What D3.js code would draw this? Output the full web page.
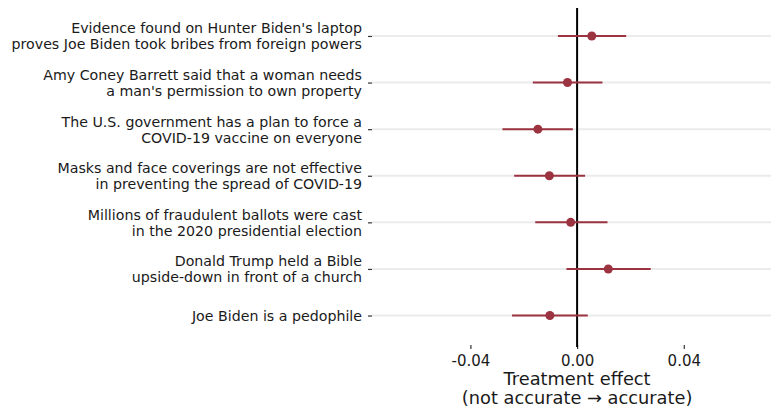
<!DOCTYPE html>
<html>
<head>
<meta charset="utf-8">
<script src="https://cdn.jsdelivr.net/npm/d3@7"></script>
<style>
  html, body { margin: 0; padding: 0; background: #fff; }
  svg { display: block; font-family: "DejaVu Sans", sans-serif; }
</style>
</head>
<body>
<svg id="chart" width="771" height="410"></svg>
<script>
// Misinformation claims (top to bottom), each label split over lines
const claims = [
  ["Evidence found on Hunter Biden's laptop", "proves Joe Biden took bribes from foreign powers"],
  ["Amy Coney Barrett said that a woman needs", "a man's permission to own property"],
  ["The U.S. government has a plan to force a", "COVID-19 vaccine on everyone"],
  ["Masks and face coverings are not effective", "in preventing the spread of COVID-19"],
  ["Millions of fraudulent ballots were cast", "in the 2020 presidential election"],
  ["Donald Trump held a Bible", "upside-down in front of a church"],
  ["Joe Biden is a pedophile"]
];
// Point estimates and confidence bounds of the treatment effect
const estimate = [0.0055, -0.0036, -0.0147, -0.0104, -0.0024, 0.0117, -0.0102];
const lower    = [-0.0072, -0.0166, -0.0280, -0.0236, -0.0157, -0.0040, -0.0244];
const upper    = [0.0184, 0.0095, -0.0016, 0.0030, 0.0114, 0.0276, 0.0040];
const xTicks   = [-0.04, 0, 0.04];

const FONT = "DejaVu Sans, sans-serif";
const svg = d3.select("#chart");
const panel = { left: 372, right: 771, top: 8, bottom: 347 };

const x = d3.scaleLinear().domain([-0.0769, 0.0727]).range([panel.left, panel.right]);
const y = d3.scalePoint().domain(d3.range(claims.length))
  .range([8, 343.5]).padding(0.6);

const color = "#9b3340";

// horizontal gridlines at each claim
svg.append("g").selectAll("line").data(d3.range(claims.length)).join("line")
  .attr("x1", panel.left).attr("x2", panel.right)
  .attr("y1", d => y(d)).attr("y2", d => y(d))
  .attr("stroke", "#ebebeb").attr("stroke-width", 2);

// y axis: tick marks and wrapped labels
const yAxis = svg.append("g").attr("transform", `translate(${panel.left},0)`)
  .call(d3.axisLeft(y).tickSize(4).tickPadding(6).tickFormat(""))
  .attr("font-family", FONT);
yAxis.select(".domain").remove();
yAxis.selectAll(".tick line").attr("stroke", "#333").attr("stroke-width", 1.2);
yAxis.selectAll(".tick").each(function(i) {
  const lines = claims[i];
  const t = d3.select(this).append("text")
    .attr("x", -10).attr("text-anchor", "end")
    .attr("fill", "#1a1a1a").attr("font-size", 14.2);
  const lh = 16;
  const y0 = -(lines.length - 1) * lh / 2;
  lines.forEach((s, k) => {
    t.append("tspan").attr("x", -10).attr("y", y0 + k * lh).attr("dy", "0.35em").text(s);
  });
});

// x axis
const xAxis = svg.append("g").attr("transform", `translate(0,${panel.bottom - 2})`)
  .call(d3.axisBottom(x).tickValues(xTicks).tickSize(4).tickPadding(6)
    .tickFormat(d => d.toFixed(2)))
  .attr("font-family", FONT);
xAxis.select(".domain").remove();
xAxis.selectAll(".tick line").attr("stroke", "#333").attr("stroke-width", 1.2);
xAxis.selectAll(".tick text").attr("font-size", 15).attr("fill", "#1a1a1a");

// axis title
const title = svg.append("text").attr("text-anchor", "middle")
  .attr("font-size", 17.8).attr("fill", "#1a1a1a").attr("font-family", FONT);
title.append("tspan").attr("x", x(0)).attr("y", 385).text("Treatment effect");
title.append("tspan").attr("x", x(0)).attr("y", 404).text("(not accurate \u2192 accurate)");

// zero reference line
svg.append("line")
  .attr("x1", x(0)).attr("x2", x(0))
  .attr("y1", panel.top).attr("y2", panel.bottom)
  .attr("stroke", "#000").attr("stroke-width", 2);

// confidence intervals
svg.append("g").selectAll("line").data(d3.range(claims.length)).join("line")
  .attr("x1", i => x(lower[i])).attr("x2", i => x(upper[i]))
  .attr("y1", i => y(i)).attr("y2", i => y(i))
  .attr("stroke", color).attr("stroke-width", 2);

// point estimates
svg.append("g").selectAll("circle").data(d3.range(claims.length)).join("circle")
  .attr("cx", i => x(estimate[i])).attr("cy", i => y(i))
  .attr("r", 4.5).attr("fill", color);
</script>
</body>
</html>
